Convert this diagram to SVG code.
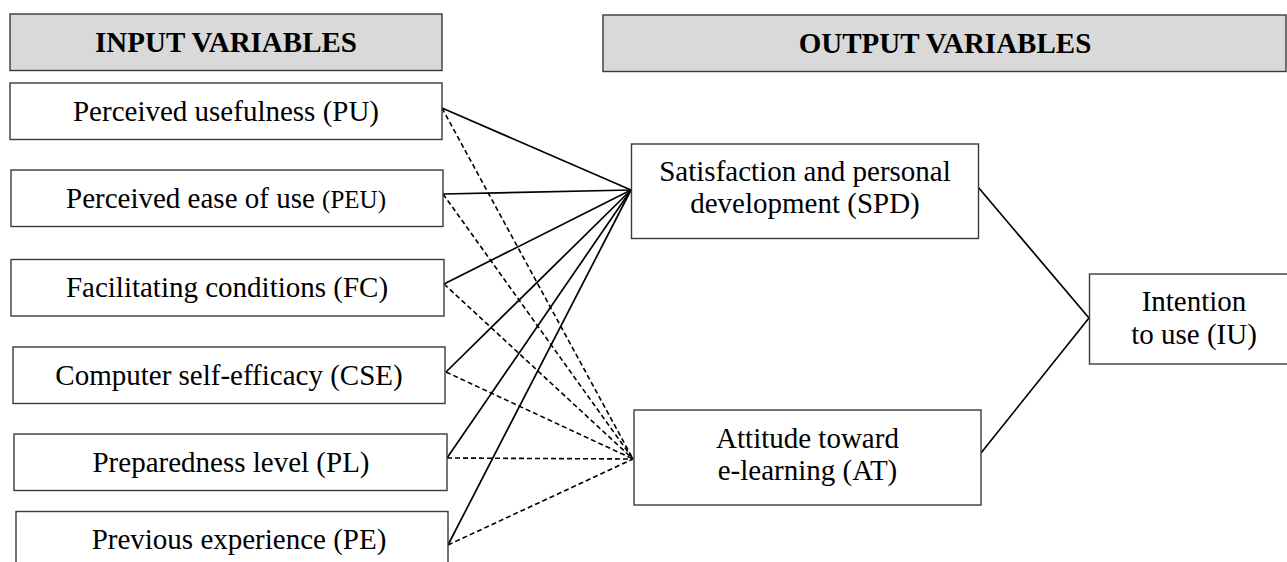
<svg xmlns="http://www.w3.org/2000/svg" width="1287" height="562" viewBox="0 0 1287 562">
<style>
.box{fill:#fff;stroke:#3a3a3a;stroke-width:1.4}
.hdr{fill:#d9d9d9;stroke:#3a3a3a;stroke-width:1.4}
text{font-family:"Liberation Serif","Times New Roman",serif;font-size:29px;fill:#000;text-anchor:middle}
.b{font-weight:bold}
.s{stroke:#000;stroke-width:1.7;fill:none}
.d{stroke:#000;stroke-width:1.6;fill:none;stroke-dasharray:5 3}
</style>
<rect width="1287" height="562" fill="#fff"/>
<g id="hdr-in"><rect class="hdr" x="10" y="14" width="432" height="56.5"/><text class="b" x="226" y="52">INPUT VARIABLES</text></g>
<g id="hdr-out"><rect class="hdr" x="603" y="15" width="683" height="56.5"/><text class="b" x="945" y="52.5">OUTPUT VARIABLES</text></g>
<g id="connectors">
<line class="s" x1="442" y1="108" x2="631" y2="190"/>
<line class="s" x1="443" y1="194" x2="631" y2="190"/>
<line class="s" x1="444" y1="284" x2="631" y2="190"/>
<line class="s" x1="446" y1="372" x2="631" y2="190"/>
<line class="s" x1="447" y1="458" x2="631" y2="190"/>
<line class="s" x1="448" y1="545" x2="631" y2="190"/>
<line class="d" x1="442" y1="108" x2="633" y2="459"/>
<line class="d" x1="443" y1="194" x2="633" y2="459"/>
<line class="d" x1="444" y1="284" x2="633" y2="459"/>
<line class="d" x1="446" y1="372" x2="633" y2="459"/>
<line class="d" x1="447" y1="458" x2="633" y2="459"/>
<line class="d" x1="448" y1="545" x2="633" y2="459"/>
<line class="s" x1="978" y1="187" x2="1089" y2="318"/>
<line class="s" x1="981" y1="453" x2="1089" y2="318"/>
</g>
<g id="pu"><rect class="box" x="10" y="83" width="432" height="56.5"/><text x="226" y="120.5">Perceived usefulness (PU)</text></g>
<g id="peu"><rect class="box" x="11" y="170" width="432" height="56.5"/><text x="226" y="208">Perceived ease of use <tspan font-size="25">(PEU)</tspan></text></g>
<g id="fc"><rect class="box" x="11" y="259.5" width="433" height="56.5"/><text x="227" y="297">Facilitating conditions (FC)</text></g>
<g id="cse"><rect class="box" x="13" y="347" width="432" height="56.5"/><text x="229" y="384.5">Computer self-efficacy (CSE)</text></g>
<g id="pl"><rect class="box" x="14" y="434" width="433" height="56.5"/><text x="231" y="471.5">Preparedness level (PL)</text></g>
<g id="pe"><rect class="box" x="16" y="511.5" width="432" height="56.5"/><text x="239" y="549">Previous experience (PE)</text></g>
<g id="spd"><rect class="box" x="631.5" y="144" width="347" height="94.5"/><text x="805" y="181">Satisfaction and personal</text><text x="805" y="213">development (SPD)</text></g>
<g id="at"><rect class="box" x="634" y="410" width="347" height="95"/><text x="807.5" y="447.5">Attitude toward</text><text x="807.5" y="480">e-learning (AT)</text></g>
<g id="iu"><rect class="box" x="1089.5" y="274" width="210" height="90"/><text x="1194" y="311">Intention</text><text x="1194" y="344">to use (IU)</text></g>
</svg>
